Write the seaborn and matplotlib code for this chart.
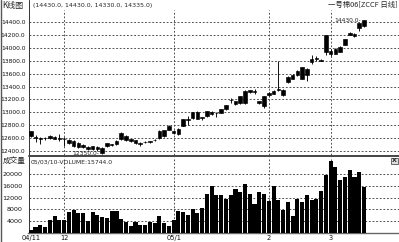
import matplotlib
matplotlib.use("Agg")
import matplotlib.pyplot as plt
import seaborn as sns
import numpy as np

# ---------------- data ----------------
opens = [12700, 12610, 12590, 12595, 12600, 12615, 12590, 12590, 12570, 12545,
         12517, 12490, 12463, 12425, 12450, 12440, 12470, 12490, 12505, 12580,
         12632, 12580, 12565, 12500, 12530, 12540, 12565, 12600, 12635, 12730,
         12710, 12665, 12790, 12885, 12912, 13010, 12915, 12940, 12965, 12985,
         12995, 13045, 13185, 13125, 13150, 13330, 13320, 13315, 13170, 13245,
         13260, 13290, 13345, 13350, 13470, 13520, 13572, 13700, 13677, 13780,
         13830, 13805, 14200, 13960, 13990, 13940, 14045, 14205, 14225, 14310,
         14430]
highs = [12710, 12640, 12620, 12610, 12640, 12630, 12660, 12610, 12580, 12560,
         12530, 12500, 12480, 12480, 12470, 12450, 12520, 12500, 12560, 12690,
         12650, 12590, 12570, 12530, 12545, 12555, 12580, 12720, 12720, 12800,
         12720, 12750, 12900, 12935, 13005, 13020, 12930, 13020, 13020, 13000,
         13050, 13110, 13228, 13178, 13255, 13345, 13345, 13360, 13180, 13255,
         13320, 13345, 13790, 13360, 13560, 13600, 13650, 13710, 13690, 13886,
         13870, 13830, 14210, 13990, 14000, 14030, 14140, 14245, 14235, 14390,
         14430]
lows = [12620, 12540, 12500, 12560, 12590, 12575, 12550, 12470, 12500, 12460,
        12440, 12440, 12410, 12410, 12400, 12350, 12460, 12480, 12495, 12570,
        12550, 12540, 12510, 12480, 12515, 12520, 12550, 12590, 12620, 12720,
        12660, 12650, 12780, 12805, 12900, 12890, 12880, 12930, 12955, 12920,
        12990, 13040, 13150, 13110, 13120, 13120, 13300, 13280, 13130, 13070,
        13250, 13280, 13330, 13250, 13450, 13510, 13560, 13510, 13493, 13755,
        13790, 13790, 13886, 13880, 13900, 13930, 14040, 14195, 14170, 14268,
        14330]
closes = [12635, 12600, 12595, 12600, 12632, 12585, 12600, 12580, 12517, 12475,
          12455, 12455, 12422, 12470, 12420, 12360, 12515, 12492, 12555, 12680,
          12560, 12550, 12520, 12520, 12532, 12545, 12570, 12705, 12715, 12780,
          12675, 12745, 12895, 12880, 13000, 12900, 12922, 13012, 13010, 12990,
          13043, 13105, 13190, 13175, 13245, 13140, 13340, 13320, 13145, 13100,
          13305, 13335, 13360, 13260, 13545, 13587, 13640, 13520, 13572, 13834,
          13834, 13810, 13938, 13900, 13913, 14016, 14133, 14237, 14180, 14384,
          14335]
volumes = [1000, 2030, 2610, 1800, 4350, 5860, 4350, 4350, 7020, 7830,
           6900, 6900, 4000, 7020, 6090, 5510, 4930, 7480, 7600, 4580,
           3540, 2380, 3770, 2610, 2610, 3770, 3190, 5860, 3420, 2380,
           4350, 7480, 7020, 6090, 8180, 6670, 8410, 13280, 15950, 12820,
           12820, 11540, 12820, 15140, 13980, 16760, 13280, 9800, 13980, 13370,
           10860, 16000, 11090, 7660, 10630, 5710, 11430, 10510, 12800, 11090,
           11430, 14290, 19770, 24570, 22520, 17940, 19090, 21370, 19200, 20910,
           15744]
tick_pos = [0, 7, 30, 50, 63]
tick_labels = ["04/11", "12", "05/1", "2", "3"]
price_ticks = [12400, 12600, 12800, 13000, 13200, 13400, 13600, 13800, 14000, 14200, 14400]
vol_ticks = [4000, 8000, 12000, 16000, 20000]
last_ohlc = "(14430.0, 14430.0, 14330.0, 14335.0)"
title_right = "一号棉06[ZCCF 日线]"
vol_header = "05/03/10-VOLUME:15744.0"
max_label = "14430.0-"
min_label = "12350.0-"

# ---------------- style ----------------
sns.set_style("white")
plt.rcParams["font.family"] = ["DejaVu Sans", "Noto Sans CJK SC"]

W, H = 399, 242
fig = plt.figure(figsize=(W / 100, H / 100), dpi=100)
fig.patch.set_facecolor("white")

def rect(x0, y0, x1, y1):
    return [x0 / W, 1 - y1 / H, (x1 - x0) / W, (y1 - y0) / H]

ax1 = fig.add_axes(rect(28.5, 10, 399, 155))
ax2 = fig.add_axes(rect(28.5, 157, 399, 232.6))

n = len(closes)
idx = np.arange(n)
grid_kw = dict(color="#444444", lw=0.65, ls=(0, (2, 2)))

# ---------------- candles ----------------
o = np.array(opens, float); c = np.array(closes, float)
hi = np.array(highs, float); lo = np.array(lows, float)
ax1.vlines(idx, lo, hi, color="black", lw=0.65, zorder=3)
bottoms = np.minimum(o, c)
heights = np.maximum(np.abs(c - o), 8)
ax1.bar(idx, heights, bottom=bottoms, width=0.75, color="black",
        edgecolor="black", linewidth=0.45, zorder=4)

ax1.set_xlim(-0.48, 77.35)
ax1.set_ylim(12333, 14592)
ax1.set_yticks(price_ticks)
ax1.set_yticklabels([f"{t:.1f}" for t in price_ticks])
ax1.set_xticks([])
for t in price_ticks:
    ax1.axhline(t, zorder=1, **grid_kw)
for p in tick_pos[1:]:
    ax1.axvline(p, zorder=1, **grid_kw)

ax1.text(15 - 0.6, lows[15], min_label, ha="right", va="center", fontsize=4.3)
ax1.text(n - 1 - 0.6, highs[-1], max_label, ha="right", va="center", fontsize=4.3)

# ---------------- volume ----------------
sns.barplot(x=idx, y=volumes, ax=ax2, color="black", saturation=1,
            width=0.86, native_scale=True, linewidth=0, zorder=3)
ax2.set_xlim(-0.48, 77.35)
ax2.set_ylim(0, 26000)
ax2.set_yticks(vol_ticks)
ax2.set_yticklabels([str(v) for v in vol_ticks])
ax2.set_xticks(tick_pos)
ax2.set_xticklabels(tick_labels)
ax2.set_xlabel(""); ax2.set_ylabel("")
for t in vol_ticks:
    ax2.axhline(t, zorder=1, **grid_kw)
for p in tick_pos[1:]:
    ax2.axvline(p, zorder=1, **grid_kw)

# ---------------- axes cosmetics ----------------
for ax in (ax1, ax2):
    ax.set_facecolor("white")
    for s in ("top", "right", "bottom"):
        ax.spines[s].set_visible(False)
    ax.spines["left"].set_color("#333333")
    ax.spines["left"].set_linewidth(0.7)
    ax.spines["left"].set_linestyle((0, (1.5, 1)))
    ax.tick_params(axis="y", direction="out", length=1.8, width=0.6, pad=0.5,
                   colors="#111111")
ax1.tick_params(axis="y", labelsize=4.3)
ax2.tick_params(axis="y", labelsize=4.6, pad=2.5)
ax2.spines["bottom"].set_visible(True)
ax2.spines["bottom"].set_color("#666666")
ax2.spines["bottom"].set_linewidth(1.0)
ax2.tick_params(axis="x", length=0, pad=1.5, labelsize=4.8, colors="#111111")

# separators and frame lines
fig.add_artist(plt.Line2D([28.5 / W, 1], [1 - 156 / H, 1 - 156 / H], color="#444444", lw=1.4))
fig.add_artist(plt.Line2D([28.5 / W, 28.5 / W], [1 - 0 / H, 1 - 10 / H], color="#333333", lw=0.7))
fig.add_artist(plt.Line2D([0.6 / W, 0.6 / W], [0, 1], color="#555555", lw=1.0))

# ---------------- texts ----------------
fig.text(2.5 / W, 1 - 5.5 / H, "K线图", fontsize=5.8, va="center", ha="left",
         family=["Noto Sans CJK SC", "DejaVu Sans"])
fig.text(33 / W, 1 - 5.5 / H, last_ohlc, fontsize=4.5, va="center", ha="left")
fig.text(398 / W, 1 - 5 / H, title_right, fontsize=5.3, va="center", ha="right",
         family=["Noto Sans CJK SC", "DejaVu Sans"])
fig.text(2.5 / W, 1 - 161 / H, "成交量", fontsize=5.5, va="center", ha="left",
         family=["Noto Sans CJK SC", "DejaVu Sans"])
fig.text(31 / W, 1 - 162.5 / H, vol_header, fontsize=4.4, va="center", ha="left")
fig.text(394.5 / W, 1 - 161 / H, "X", fontsize=4.5, va="center", ha="center", weight="bold",
         bbox=dict(boxstyle="square,pad=0.1", fc="#dddddd", ec="#333333", lw=0.5))

fig.savefig("out.png", dpi=100, facecolor="white")
